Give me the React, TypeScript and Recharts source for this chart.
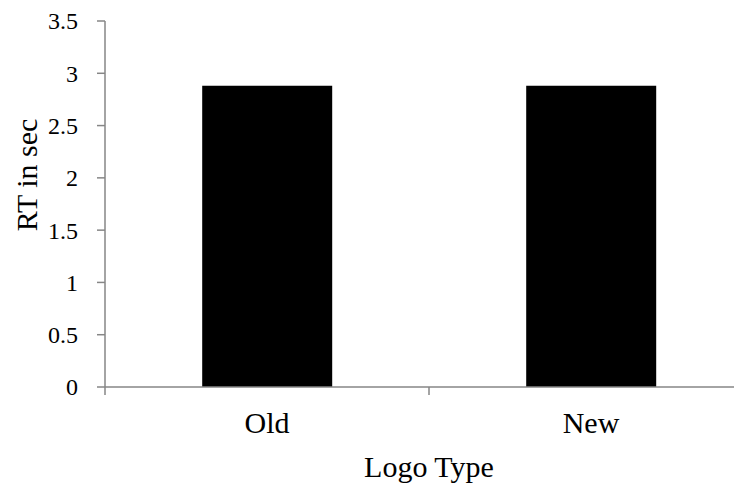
import React from "react";
import { BarChart, Bar, XAxis, YAxis } from "recharts";

const categories = ["Old", "New"];
const rtValues = [2.88, 2.88];
const yTicks = [0, 0.5, 1, 1.5, 2, 2.5, 3, 3.5];

const data = categories.map((c, i) => ({ name: c, rt: rtValues[i] }));

const FONT = "Liberation Serif, Tinos, Times New Roman, DejaVu Serif, serif";
const AXIS = "#868686";
const BAND_HALF = 162;

const XTick = (props: any) => {
  const { x, y, payload, index } = props;
  const half = BAND_HALF;
  return (
    <g>
      <line x1={x - half} y1={y - 16} x2={x - half} y2={y - 8} stroke={AXIS} strokeWidth={1.5} />
      {index === categories.length - 1 && (
        <line x1={x + half} y1={y - 16} x2={x + half} y2={y - 8} stroke={AXIS} strokeWidth={1.5} />
      )}
      <text x={x} y={y + 30} textAnchor="middle" style={{ fontFamily: FONT }} fontSize={30} fill="#000">
        {payload.value}
      </text>
    </g>
  );
};

const YTick = (props: any) => {
  const { x, y, payload } = props;
  return (
    <text x={x} y={y} dy="0.35em" textAnchor="end" style={{ fontFamily: FONT }} fontSize={24} fill="#000">
      {payload.value}
    </text>
  );
};

export default function App() {
  return (
    <div style={{ width: 734, height: 476, overflow: "hidden", fontFamily: FONT }}>
      <BarChart
        width={760}
        height={476}
        data={data}
        margin={{ top: 13, right: 15, bottom: 17, left: 7 }}
        barCategoryGap="30%"
        style={{ fontFamily: FONT }}
      >
        <XAxis
          dataKey="name"
          height={80}
          stroke={AXIS}
          strokeWidth={1.5}
          tickLine={false}
          tickSize={8}
          tickMargin={8}
          tick={<XTick />}
          label={{
            content: () => (
              <text x={421} y={469} textAnchor="middle" style={{ fontFamily: FONT }} fontSize={30} fill="#000">
                Logo Type
              </text>
            ),
          }}
        />
        <YAxis
          width={90}
          domain={[0, 3.5]}
          ticks={yTicks}
          interval={0}
          stroke={AXIS}
          strokeWidth={1.5}
          tickSize={8}
          tickMargin={19}
          tick={<YTick />}
          label={{
            content: () => (
              <text
                x={29}
                y={167}
                transform="rotate(-90 29 167)"
                textAnchor="middle"
                style={{ fontFamily: FONT }}
                fontSize={30}
                fill="#000"
              >
                RT in sec
              </text>
            ),
          }}
        />
        <Bar dataKey="rt" fill="#000" isAnimationActive={false} />
      </BarChart>
    </div>
  );
}
